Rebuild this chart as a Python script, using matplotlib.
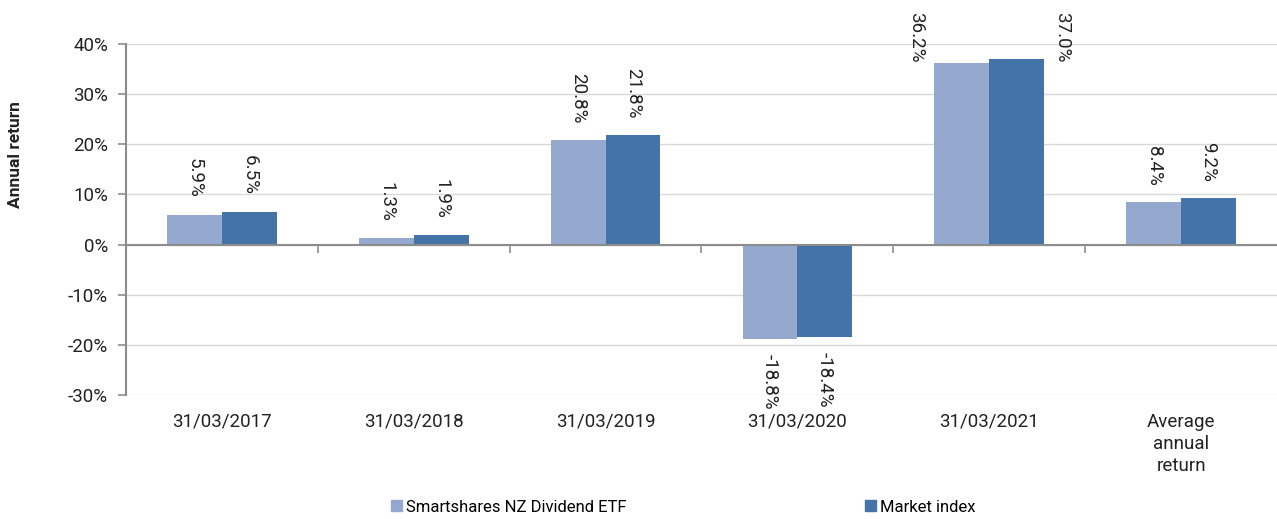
import numpy as np
import matplotlib.pyplot as plt
from matplotlib.patches import Patch
from matplotlib.ticker import PercentFormatter
import matplotlib.transforms as mtransforms

plt.rcParams['font.family'] = ['Roboto', 'DejaVu Sans']
plt.rcParams['axes.unicode_minus'] = False

categories = ['31/03/2017', '31/03/2018', '31/03/2019', '31/03/2020', '31/03/2021',
              'Average\nannual\nreturn']
etf = [5.9, 1.3, 20.8, -18.8, 36.2, 8.4]
market = [6.5, 1.9, 21.8, -18.4, 37.0, 9.2]
series_names = ['Smartshares NZ Dividend ETF', 'Market index']

c_light = '#95A9CF'
c_dark = '#4473A7'
grey = '#8c8c8c'
fs = 13.5

fig = plt.figure(figsize=(12.77, 5.19), dpi=100)
ax = fig.add_axes([126 / 1277, 1 - 395 / 519, 1 - 126 / 1277, (395 - 44) / 519])

x = np.arange(len(categories))
w = 0.286
b1 = ax.bar(x - w / 2, etf, w, color=c_light, zorder=3)
b2 = ax.bar(x + w / 2, market, w, color=c_dark, zorder=3)

labels = []
for side, bars, vals in ((-1, b1, etf), (1, b2, market)):
    for rect, v in zip(bars, vals):
        cx = rect.get_x() + rect.get_width() / 2
        off = 12 if v >= 0 else -11
        t = ax.annotate(f'{v:.1f}%', (cx, v), xytext=(0, off), textcoords='offset points',
                        rotation=-90, ha='center', va='bottom' if v >= 0 else 'top',
                        fontsize=fs, color='#222222', annotation_clip=False, zorder=5)
        labels.append((t, side))

ax.set_xlim(-0.5, len(categories) - 0.5)
ax.set_ylim(-30, 40)
ax.set_yticks(np.arange(-30, 41, 10))
ax.yaxis.set_major_formatter(PercentFormatter(decimals=0))
ax.grid(axis='y', color='#d9d9d9', lw=1, zorder=0)

ax.spines['top'].set_visible(False)
ax.spines['right'].set_visible(False)
ax.spines['left'].set_color(grey)
ax.spines['left'].set_linewidth(1.5)
ax.spines['bottom'].set_position(('data', 0))
ax.spines['bottom'].set_color(grey)
ax.spines['bottom'].set_linewidth(1.5)
ax.spines['bottom'].set_zorder(4)

ax.set_xticks(x[:-1] + 0.5)
ax.set_xticklabels([])
ax.tick_params(axis='x', direction='out', length=6, width=1.2, color=grey)
ax.tick_params(axis='y', direction='out', length=6, width=1.2, color=grey,
               labelsize=fs, pad=7, labelcolor='#222222')

trans = mtransforms.blended_transform_factory(ax.transData, ax.transAxes)
for xi, lab in zip(x, categories):
    ax.text(xi, -0.05, lab, transform=trans, ha='center', va='top',
            fontsize=fs, color='#222222', linespacing=1.3)

fig.text(16 / 1277, 1 - 155 / 519, 'Annual return', rotation=90, ha='center',
         va='center', fontsize=12.5, fontweight='bold', color='#222222')

handles = [Patch(color=c_light), Patch(color=c_dark)]
fig.legend(handles, series_names, loc='center left', bbox_to_anchor=(391 / 1277, 1 - 507 / 519),
           ncol=2, frameon=False, fontsize=12, handlelength=0.65, handleheight=0.65,
           handletextpad=0.25, columnspacing=14.3, borderaxespad=0, borderpad=0)

# labels that would leave the figure: pull down and move beside the bar
fig.canvas.draw()
renderer = fig.canvas.get_renderer()
top_px = fig.bbox.height - 12
half_bar_pt = (w / 2) * ax.bbox.width / (ax.get_xlim()[1] - ax.get_xlim()[0]) * 72 / fig.dpi
for t, side in labels:
    bb = t.get_window_extent(renderer)
    if bb.y1 > top_px:
        dx, dy = t.xyann
        t.xyann = (side * (half_bar_pt + 13), dy - (bb.y1 - top_px) * 72 / fig.dpi)

fig.savefig('out.png', dpi=100)
